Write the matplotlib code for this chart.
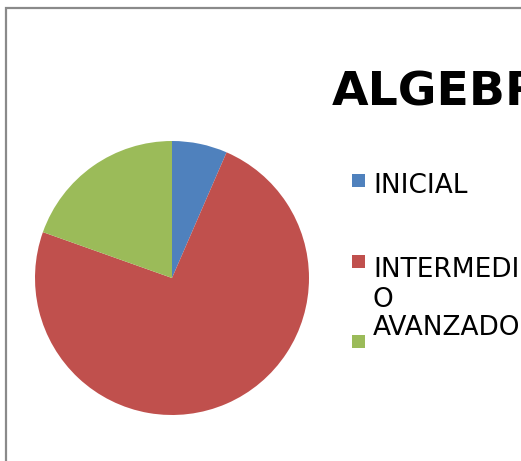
import matplotlib.pyplot as plt
from matplotlib.patches import Rectangle

# pie data
labels = ["INICIAL", "INTERMEDIO", "AVANZADO"]
values = [3, 34, 9]
colors = ["#4F81BD", "#C0504D", "#9BBB59"]
title = "ALGEBRA"

W, H = 521, 461
fig = plt.figure(figsize=(W / 100, H / 100), dpi=100)


def fx(px):
    return px / W


def fy(py):
    # pixel rows are counted from the top
    return (H - py) / H


# chart frame (gray line, runs off the right and bottom edges)
fig.patches.append(Rectangle((fx(6), -0.1), 1.2, fy(8) + 0.1, transform=fig.transFigure,
                             fill=False, edgecolor="#8a8a8a", linewidth=1.6))

# pie: centre (172, 278), radius 137 px
ax = fig.add_axes([fx(35), fy(415), 274 / W, 274 / H])
ax.pie(values, colors=colors, startangle=90, counterclock=False, radius=1.0,
       wedgeprops=dict(linewidth=0))
ax.set_xlim(-1, 1)
ax.set_ylim(-1, 1)
ax.set_aspect("equal")
ax.axis("off")

# title is cut by the right edge in the original too
fig.text(fx(332), fy(105), title, fontsize=34, fontweight="bold",
         ha="left", va="baseline", color="black")

# legend drawn by hand (label text wraps like the original)
legend_lines = [["INICIAL"], ["INTERMEDI", "O"], ["AVANZADO"]]
baselines = [[193], [277, 307], [335]]
marker_tops = [174, 255, 335]
for lines, bls, top, c in zip(legend_lines, baselines, marker_tops, colors):
    fig.patches.append(Rectangle((fx(352), fy(top + 13)), 13 / W, 13 / H,
                                 transform=fig.transFigure, facecolor=c, edgecolor="none"))
    for line, bl in zip(lines, bls):
        fig.text(fx(373), fy(bl), line, fontsize=19, ha="left", va="baseline", color="black")

fig.savefig("out.png", dpi=100)
